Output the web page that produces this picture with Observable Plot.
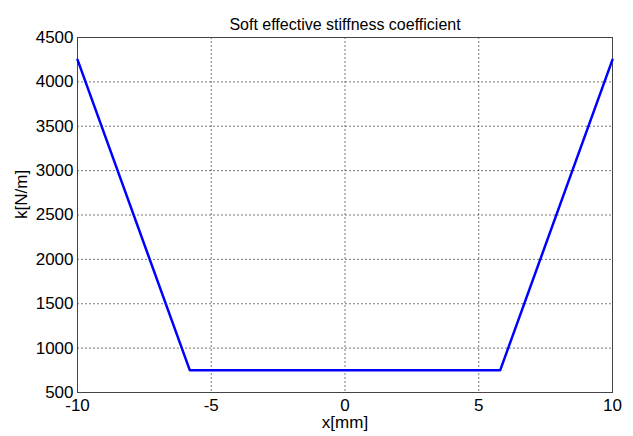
<!DOCTYPE html>
<html>
<head>
<meta charset="utf-8">
<script src="https://cdn.jsdelivr.net/npm/d3@7"></script>
<script src="https://cdn.jsdelivr.net/npm/@observablehq/plot@0.6"></script>
<style>
  html, body { margin: 0; padding: 0; background: #fff; }
  #chart svg { display: block; }
</style>
</head>
<body>
<div id="chart"></div>
<script>
const xValues = [-10, -5.8, 5.8, 10];
const kValues = [4250, 750, 750, 4250];
const xTicks = [-10, -5, 0, 5, 10];
const yTicks = [500, 1000, 1500, 2000, 2500, 3000, 3500, 4000, 4500];
const title = "Soft effective stiffness coefficient";
const xLabel = "x[mm]";
const yLabel = "k[N/m]";

const data = xValues.map((x, i) => ({x, k: kValues[i]}));
const font = "Liberation Sans, Arial, sans-serif";

const chart = Plot.plot({
  width: 633,
  height: 436,
  marginLeft: 77,
  marginRight: 21,
  marginTop: 37,
  marginBottom: 44,
  style: {fontFamily: font, background: "#fff", color: "#000"},
  x: {domain: [-10, 10], ticks: xTicks},
  y: {domain: [500, 4500], ticks: yTicks},
  marks: [
    Plot.gridX(xTicks, {stroke: "#555", strokeOpacity: 1, strokeDasharray: "2,2", strokeWidth: 0.8}),
    Plot.gridY(yTicks, {stroke: "#555", strokeOpacity: 1, strokeDasharray: "2,2", strokeWidth: 0.8}),
    Plot.frame({stroke: "#444", strokeWidth: 1}),
    Plot.axisX(xTicks, {tickSize: 0, tickPadding: 6, fontSize: 17, tickFormat: d => String(d), label: null}),
    Plot.axisY(yTicks, {tickSize: 0, tickPadding: 4, fontSize: 17, tickFormat: d => String(d), label: null}),
    Plot.line(data, {x: "x", y: "k", stroke: "#0000ff", strokeWidth: 2.5}),
    Plot.text([title], {frameAnchor: "top", dy: -19, fontSize: 16, fill: "#000"}),
    Plot.text([xLabel], {frameAnchor: "bottom", dy: 35, fontSize: 17, fill: "#000"}),
    Plot.text([yLabel], {frameAnchor: "left", dx: -56, dy: 4, rotate: -90, fontSize: 17, fill: "#000"})
  ]
});
document.getElementById("chart").appendChild(chart);
</script>
</body>
</html>
